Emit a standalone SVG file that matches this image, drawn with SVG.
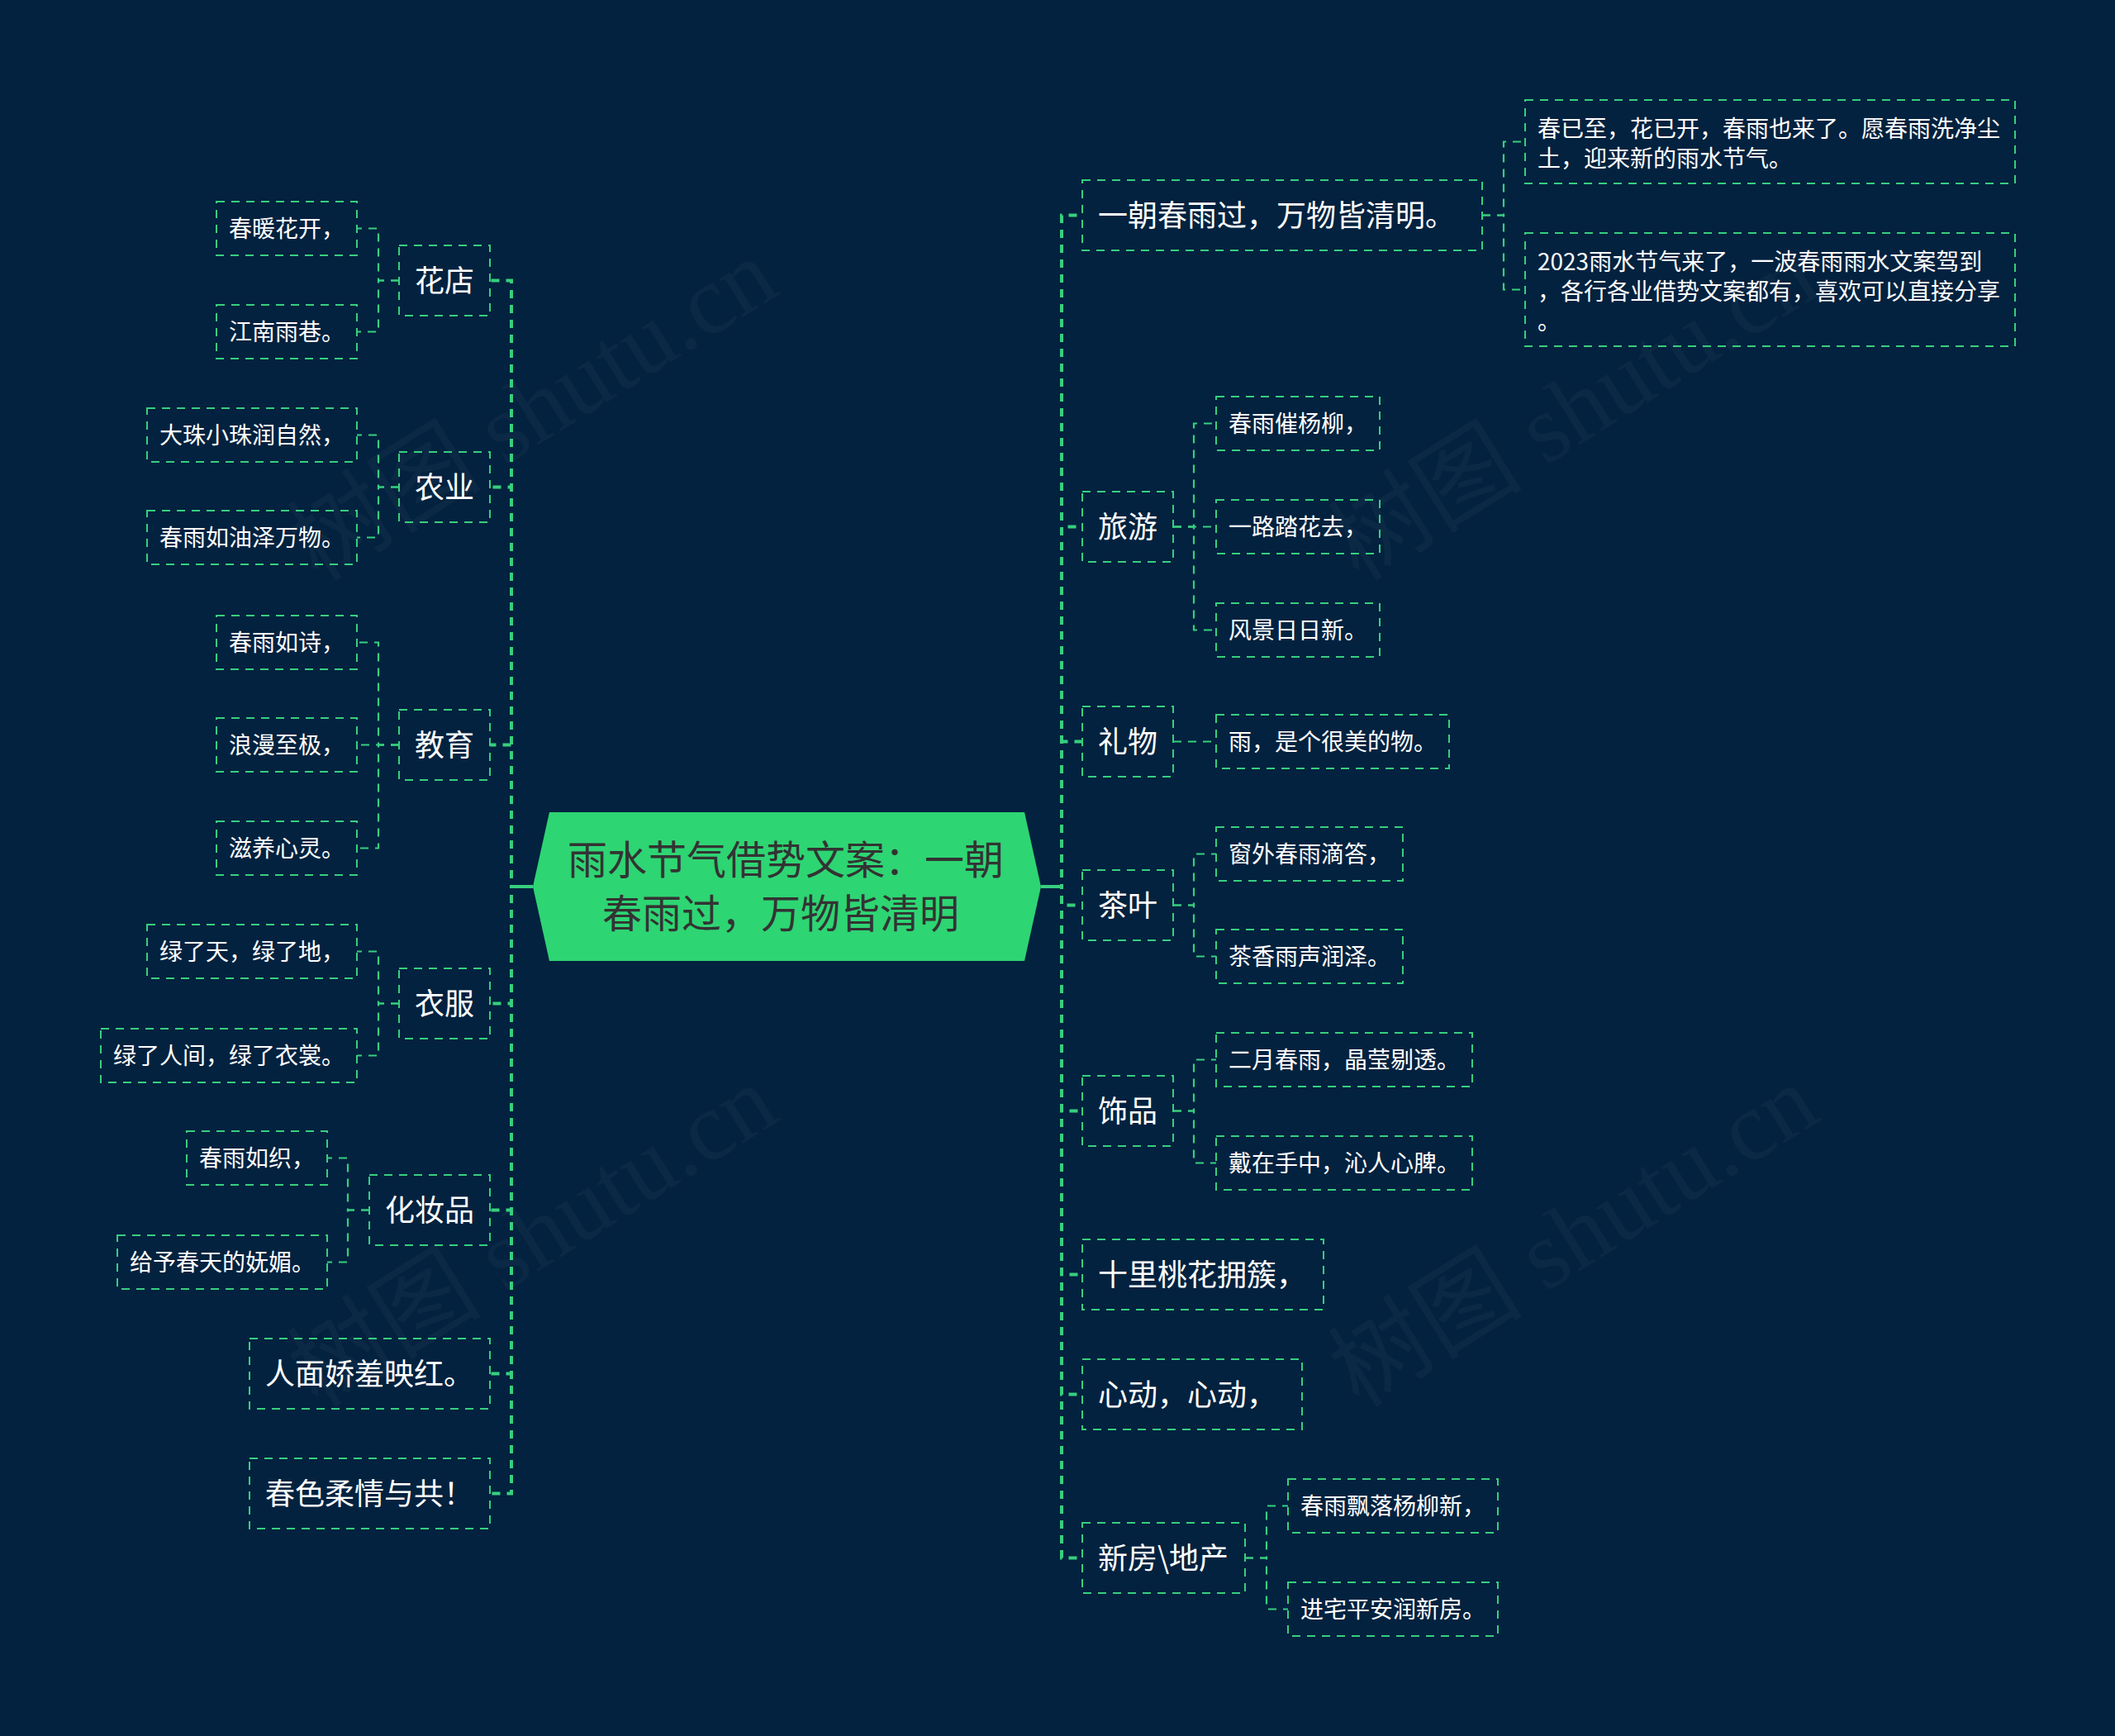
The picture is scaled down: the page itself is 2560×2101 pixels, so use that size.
<svg xmlns="http://www.w3.org/2000/svg" width="2560" height="2101" viewBox="0 0 2560 2101">
<style>
.bx{fill:none;stroke:#37cf7e;stroke-width:2;stroke-dasharray:10 8}
.ln{fill:none;stroke:#37cf7e;stroke-width:2.2;stroke-dasharray:10 8}
.tr{fill:none;stroke:#37cf7e;stroke-width:4;stroke-dasharray:10 8}
.t1{font-family:"Noto Sans CJK SC","Noto Sans",sans-serif;font-size:36px;fill:#ffffff}
.t2{font-family:"Noto Sans CJK SC","Noto Sans",sans-serif;font-size:28px;fill:#ffffff}
.tc{font-family:"Noto Sans CJK SC","Noto Sans",sans-serif;font-size:48px;fill:#333333;text-anchor:middle}
.wm{font-family:"Liberation Serif","Noto Sans CJK SC",serif;font-size:118px;fill:#ffffff;fill-opacity:0.035}
</style>
<rect x="0" y="0" width="2560" height="2101" fill="#03223f"/>
<g id="watermarks">
<text class="wm" transform="translate(385,705) rotate(-32)">树图 shutu.cn</text>
<text class="wm" transform="translate(1645,705) rotate(-32)">树图 shutu.cn</text>
<text class="wm" transform="translate(385,1705) rotate(-32)">树图 shutu.cn</text>
<text class="wm" transform="translate(1645,1705) rotate(-32)">树图 shutu.cn</text>
</g>
<g id="connectors">
<line x1="619" y1="1073" x2="645" y2="1073" stroke="#37cf7e" stroke-width="4"/>
<line x1="1260" y1="1073" x2="1285" y2="1073" stroke="#37cf7e" stroke-width="4"/>
<path class="tr" d="M645 1073H619V339.5H593"/>
<path class="tr" d="M645 1073H619V589.5H593"/>
<path class="tr" d="M645 1073H619V901.5H593"/>
<path class="tr" d="M645 1073H619V1214.5H593"/>
<path class="tr" d="M645 1073H619V1464.5H593"/>
<path class="tr" d="M645 1073H619V1662.5H593"/>
<path class="tr" d="M645 1073H619V1807.5H593"/>
<path class="tr" d="M1260 1073H1285V260.5H1310"/>
<path class="tr" d="M1260 1073H1285V637.5H1310"/>
<path class="tr" d="M1260 1073H1285V897.5H1310"/>
<path class="tr" d="M1260 1073H1285V1095.5H1310"/>
<path class="tr" d="M1260 1073H1285V1344.5H1310"/>
<path class="tr" d="M1260 1073H1285V1542.5H1310"/>
<path class="tr" d="M1260 1073H1285V1687.5H1310"/>
<path class="tr" d="M1260 1073H1285V1885.5H1310"/>
<path class="ln" d="M483 339.5H458V276.5H432"/>
<path class="ln" d="M483 339.5H458V401.5H432"/>
<path class="ln" d="M483 589.5H458V526.5H432"/>
<path class="ln" d="M483 589.5H458V650.5H432"/>
<path class="ln" d="M483 901.5H458V777.5H432"/>
<path class="ln" d="M483 901.5H432"/>
<path class="ln" d="M483 901.5H458V1026.5H432"/>
<path class="ln" d="M483 1214.5H458V1151.5H432"/>
<path class="ln" d="M483 1214.5H458V1277.5H432"/>
<path class="ln" d="M447 1464.5H421V1401.5H396"/>
<path class="ln" d="M447 1464.5H421V1527.5H396"/>
<path class="ln" d="M1794 260.5H1820V171.5H1846"/>
<path class="ln" d="M1794 260.5H1820V350.5H1846"/>
<path class="ln" d="M1420 637.5H1445V512.5H1472"/>
<path class="ln" d="M1420 637.5H1472"/>
<path class="ln" d="M1420 637.5H1445V762.5H1472"/>
<path class="ln" d="M1420 897.5H1472"/>
<path class="ln" d="M1420 1095.5H1445V1033.5H1472"/>
<path class="ln" d="M1420 1095.5H1445V1157.5H1472"/>
<path class="ln" d="M1420 1344.5H1445V1282.5H1472"/>
<path class="ln" d="M1420 1344.5H1445V1407.5H1472"/>
<path class="ln" d="M1507 1885.5H1533V1822.5H1559"/>
<path class="ln" d="M1507 1885.5H1533V1947.5H1559"/>
</g>
<g id="root">
<polygon points="645,1073 665,983 1240,983 1260,1073 1240,1163 665,1163" fill="#2ed573"/>
<text class="tc" x="951" y="1058">雨水节气借势文案：一朝</text>
<text class="tc" x="945" y="1123">春雨过，万物皆清明</text>
</g>
<g id="n-huadian"><rect class="bx" x="483" y="297" width="110" height="85"/><text class="t1" x="502" y="353">花店</text></g>
<g id="n-nongye"><rect class="bx" x="483" y="547" width="110" height="85"/><text class="t1" x="502" y="603">农业</text></g>
<g id="n-jiaoyu"><rect class="bx" x="483" y="859" width="110" height="85"/><text class="t1" x="502" y="915">教育</text></g>
<g id="n-yifu"><rect class="bx" x="483" y="1172" width="110" height="85"/><text class="t1" x="502" y="1228">衣服</text></g>
<g id="n-huazhuangpin"><rect class="bx" x="447" y="1422" width="146" height="85"/><text class="t1" x="466" y="1478">化妆品</text></g>
<g id="n-renmian"><rect class="bx" x="302" y="1620" width="291" height="85"/><text class="t1" x="321" y="1676">人面娇羞映红。</text></g>
<g id="n-chunse"><rect class="bx" x="302" y="1765" width="291" height="85"/><text class="t1" x="321" y="1821">春色柔情与共！</text></g>
<g id="n-l2-1"><rect class="bx" x="262" y="244" width="170" height="65"/><text class="t2" x="277" y="287">春暖花开，</text></g>
<g id="n-l2-2"><rect class="bx" x="262" y="369" width="170" height="65"/><text class="t2" x="277" y="412">江南雨巷。</text></g>
<g id="n-l2-3"><rect class="bx" x="178" y="494" width="254" height="65"/><text class="t2" x="193" y="537">大珠小珠润自然，</text></g>
<g id="n-l2-4"><rect class="bx" x="178" y="618" width="254" height="65"/><text class="t2" x="193" y="661">春雨如油泽万物。</text></g>
<g id="n-l2-5"><rect class="bx" x="262" y="745" width="170" height="65"/><text class="t2" x="277" y="788">春雨如诗，</text></g>
<g id="n-l2-6"><rect class="bx" x="262" y="869" width="170" height="65"/><text class="t2" x="277" y="912">浪漫至极，</text></g>
<g id="n-l2-7"><rect class="bx" x="262" y="994" width="170" height="65"/><text class="t2" x="277" y="1037">滋养心灵。</text></g>
<g id="n-l2-8"><rect class="bx" x="178" y="1119" width="254" height="65"/><text class="t2" x="193" y="1162">绿了天，绿了地，</text></g>
<g id="n-l2-9"><rect class="bx" x="122" y="1245" width="310" height="65"/><text class="t2" x="137" y="1288">绿了人间，绿了衣裳。</text></g>
<g id="n-l2-10"><rect class="bx" x="226" y="1369" width="170" height="65"/><text class="t2" x="241" y="1412">春雨如织，</text></g>
<g id="n-l2-11"><rect class="bx" x="142" y="1495" width="254" height="65"/><text class="t2" x="157" y="1538">给予春天的妩媚。</text></g>
<g id="n-yizhao"><rect class="bx" x="1310" y="218" width="484" height="85"/><text class="t1" x="1329" y="274">一朝春雨过，万物皆清明。</text></g>
<g id="n-lvyou"><rect class="bx" x="1310" y="595" width="110" height="85"/><text class="t1" x="1329" y="651">旅游</text></g>
<g id="n-liwu"><rect class="bx" x="1310" y="855" width="110" height="85"/><text class="t1" x="1329" y="911">礼物</text></g>
<g id="n-chaye"><rect class="bx" x="1310" y="1053" width="110" height="85"/><text class="t1" x="1329" y="1109">茶叶</text></g>
<g id="n-shipin"><rect class="bx" x="1310" y="1302" width="110" height="85"/><text class="t1" x="1329" y="1358">饰品</text></g>
<g id="n-shili"><rect class="bx" x="1310" y="1500" width="292" height="85"/><text class="t1" x="1329" y="1556">十里桃花拥簇，</text></g>
<g id="n-xindong"><rect class="bx" x="1310" y="1645" width="266" height="85"/><text class="t1" x="1329" y="1701">心动，心动，</text></g>
<g id="n-xinfang"><rect class="bx" x="1310" y="1843" width="197" height="85"/><text class="t1" x="1329" y="1899">新房\地产</text></g>
<g id="n-r2-1"><rect class="bx" x="1846" y="121" width="593" height="101"/><text class="t2" x="1861" y="166">春已至，花已开，春雨也来了。愿春雨洗净尘</text><text class="t2" x="1861" y="202">土，迎来新的雨水节气。</text></g>
<g id="n-r2-2"><rect class="bx" x="1846" y="282" width="593" height="137"/><text class="t2" x="1861" y="327">2023雨水节气来了，一波春雨雨水文案驾到</text><text class="t2" x="1861" y="363">，各行各业借势文案都有，喜欢可以直接分享</text><text class="t2" x="1861" y="399">。</text></g>
<g id="n-r2-3"><rect class="bx" x="1472" y="480" width="198" height="65"/><text class="t2" x="1487" y="523">春雨催杨柳，</text></g>
<g id="n-r2-4"><rect class="bx" x="1472" y="605" width="198" height="65"/><text class="t2" x="1487" y="648">一路踏花去，</text></g>
<g id="n-r2-5"><rect class="bx" x="1472" y="730" width="198" height="65"/><text class="t2" x="1487" y="773">风景日日新。</text></g>
<g id="n-r2-6"><rect class="bx" x="1472" y="865" width="282" height="65"/><text class="t2" x="1487" y="908">雨，是个很美的物。</text></g>
<g id="n-r2-7"><rect class="bx" x="1472" y="1001" width="226" height="65"/><text class="t2" x="1487" y="1044">窗外春雨滴答，</text></g>
<g id="n-r2-8"><rect class="bx" x="1472" y="1125" width="226" height="65"/><text class="t2" x="1487" y="1168">茶香雨声润泽。</text></g>
<g id="n-r2-9"><rect class="bx" x="1472" y="1250" width="310" height="65"/><text class="t2" x="1487" y="1293">二月春雨，晶莹剔透。</text></g>
<g id="n-r2-10"><rect class="bx" x="1472" y="1375" width="310" height="65"/><text class="t2" x="1487" y="1418">戴在手中，沁人心脾。</text></g>
<g id="n-r2-11"><rect class="bx" x="1559" y="1790" width="254" height="65"/><text class="t2" x="1574" y="1833">春雨飘落杨柳新，</text></g>
<g id="n-r2-12"><rect class="bx" x="1559" y="1915" width="254" height="65"/><text class="t2" x="1574" y="1958">进宅平安润新房。</text></g>
</svg>
